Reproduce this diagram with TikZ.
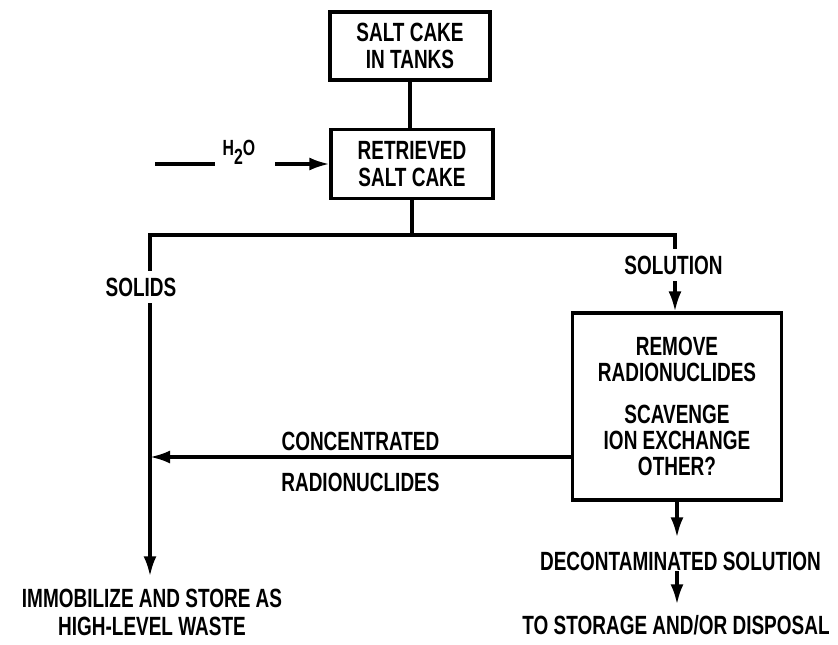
\documentclass[tikz,border=0pt]{standalone}
\usepackage{fontspec}
\setmainfont{Liberation Sans}[FakeStretch=0.72]
\usetikzlibrary{arrows.meta,positioning}

\begin{document}
\begin{tikzpicture}[
    >={Latex[length=4mm,width=2.6mm]},
    line width=1.8pt,
    box/.style={
        draw,
        align=center,
        inner sep=0pt,
        font=\fontsize{15}{15pt}\selectfont\bfseries
    },
    tag/.style={align=center, inner sep=3pt, font=\fontsize{15}{16pt}\selectfont\bfseries},
    small/.style={inner sep=0pt, font=\fontsize{12.5}{13pt}\selectfont\bfseries}
]
\useasboundingbox (0,0) rectangle (16.76,-12.9);

% Salt cake boxes.
\node[box, minimum width=3.2cm, minimum height=1.36cm] (tanks) at (8.2,-0.92)
    {SALT CAKE\\IN TANKS};
\node[box, minimum width=3.24cm, minimum height=1.38cm] (retrieved) at (8.24,-3.28)
    {RETRIEVED\\SALT CAKE};
\draw (tanks.south) -- (tanks.south |- retrieved.north);

% Water feed.
\coordinate (water) at (3.1,-3.28);
\coordinate (waterEnd) at (4.3,-3.28);
\coordinate (waterIn) at (5.5,-3.28);
\node[small, anchor=base] (h2o) at (4.78,-3.1) {H\raisebox{-0.18cm}{2}O};
\draw (water) -- (waterEnd);
\draw[->] (waterIn) -- (retrieved.west);

% Split into solids and solution.
\coordinate (split) at (8.24,-4.7);
\coordinate (solidsTop) at (3.0,-4.7);
\coordinate (solutionTop) at (13.5,-4.7);
\node[tag] (solids) at (2.82,-5.74) {SOLIDS};
\node[tag] (solution) at (13.47,-5.3) {SOLUTION};
\draw (retrieved.south) -- (split);
\draw (solids.north -| solidsTop) -- (solidsTop) -- (solutionTop) -- (solution.north -| solutionTop);

% Radionuclide removal.
\node[box, minimum width=4.18cm, minimum height=3.74cm] (remove) at (13.54,-8.13)
    {REMOVE\\RADIONUCLIDES\\[0.3cm]SCAVENGE\\ION EXCHANGE\\OTHER?};
\draw[->] (solution.south -| solutionTop) -- (solutionTop |- remove.north);

% Solids to storage.
\node[tag] (store) at (3.04,-12.25) {IMMOBILIZE AND STORE AS\\HIGH-LEVEL WASTE};
\draw[->, shorten >=0.12cm] (solids.south -| solidsTop) -- (store.north -| solidsTop);
\coordinate (join) at (3.0,-9.14);
\draw[->] (join -| remove.west) -- (join)
    node[tag, midway, above=0.1cm, inner sep=0pt] (concTop) {CONCENTRATED}
    node[tag, midway, below=0.3cm, inner sep=0pt] (concBottom) {RADIONUCLIDES};

% Solution path.
\node[tag] (decon) at (13.61,-11.22) {DECONTAMINATED SOLUTION};
\node[tag] (final) at (13.52,-12.5) {TO STORAGE AND/OR DISPOSAL};
\draw[->, shorten >=0.15cm] (remove.south) -- (remove.south |- decon.north);
\draw[->, shorten >=0.08cm, shorten <=-0.12cm] (decon.south -| remove.south) -- (final.north -| remove.south);

\end{tikzpicture}
\end{document}
